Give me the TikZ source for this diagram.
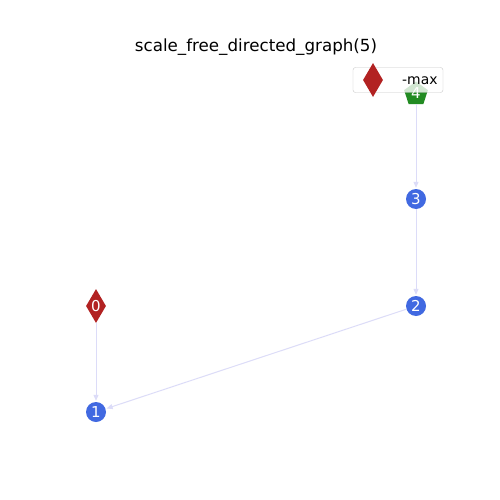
\documentclass[tikz,border=0pt]{standalone}
\usepackage{fontspec}
\setmainfont{DejaVu Sans}
\usetikzlibrary{shapes.geometric,arrows.meta}
\definecolor{royal}{HTML}{4169E1}
\definecolor{fire}{HTML}{B22222}
\definecolor{forest}{HTML}{228B22}
\definecolor{lav}{HTML}{DCDCF8}
\begin{document}
\begin{tikzpicture}[x=1pt,y=-1pt,
  vtx/.style={circle,fill=royal,text=white,inner sep=0pt,minimum size=20pt,font=\fontsize{15}{15}\selectfont},
  dia/.style={diamond,fill=fire,text=white,inner sep=0pt,minimum width=20pt,minimum height=34pt,aspect=0.59,font=\fontsize{15}{15}\selectfont},
  pent/.style={regular polygon,regular polygon sides=5,fill=forest,text=white,inner sep=0pt,minimum size=25pt,font=\fontsize{15}{15}\selectfont},
  edge/.style={draw=lav,line width=1pt,-{Triangle[length=6pt,width=5pt]},shorten >=1pt}]
\useasboundingbox (0,0) rectangle (500,500);
\fill[white] (0,0) rectangle (500,500);
\node[font=\fontsize{16.7}{16.7}\selectfont] (title) at (256,47) {scale\_free\_directed\_graph(5)};
\node[dia] (n0) at (96,306) {0};
\node[vtx] (n1) at (96,412) {1};
\node[vtx] (n2) at (416,306) {2};
\node[vtx] (n3) at (416,199) {3};
\node[pent] (n4) at (416,94) {};
\node[text=white,font=\fontsize{15}{15}\selectfont] (l4) at (416,93) {4};
\draw[edge] (n4) -- (n3);
\draw[edge] (n3) -- (n2);
\draw[edge] (n2) -- (n1);
\draw[edge] (n0) -- (n1);
% legend
\node[draw=black!22,fill=white,fill opacity=0.8,rounded corners=2.5pt,minimum width=90pt,minimum height=25pt,inner sep=0pt] (leg) at (398,80) {};
\node[diamond,fill=fire,inner sep=0pt,minimum width=20pt,minimum height=34pt,aspect=0.59] (legmark) at (373,80) {};
\node[font=\fontsize{13.9}{13.9}\selectfont,anchor=west,inner sep=0pt] (legtext) at (402,81) {-max};
\end{tikzpicture}
\end{document}
